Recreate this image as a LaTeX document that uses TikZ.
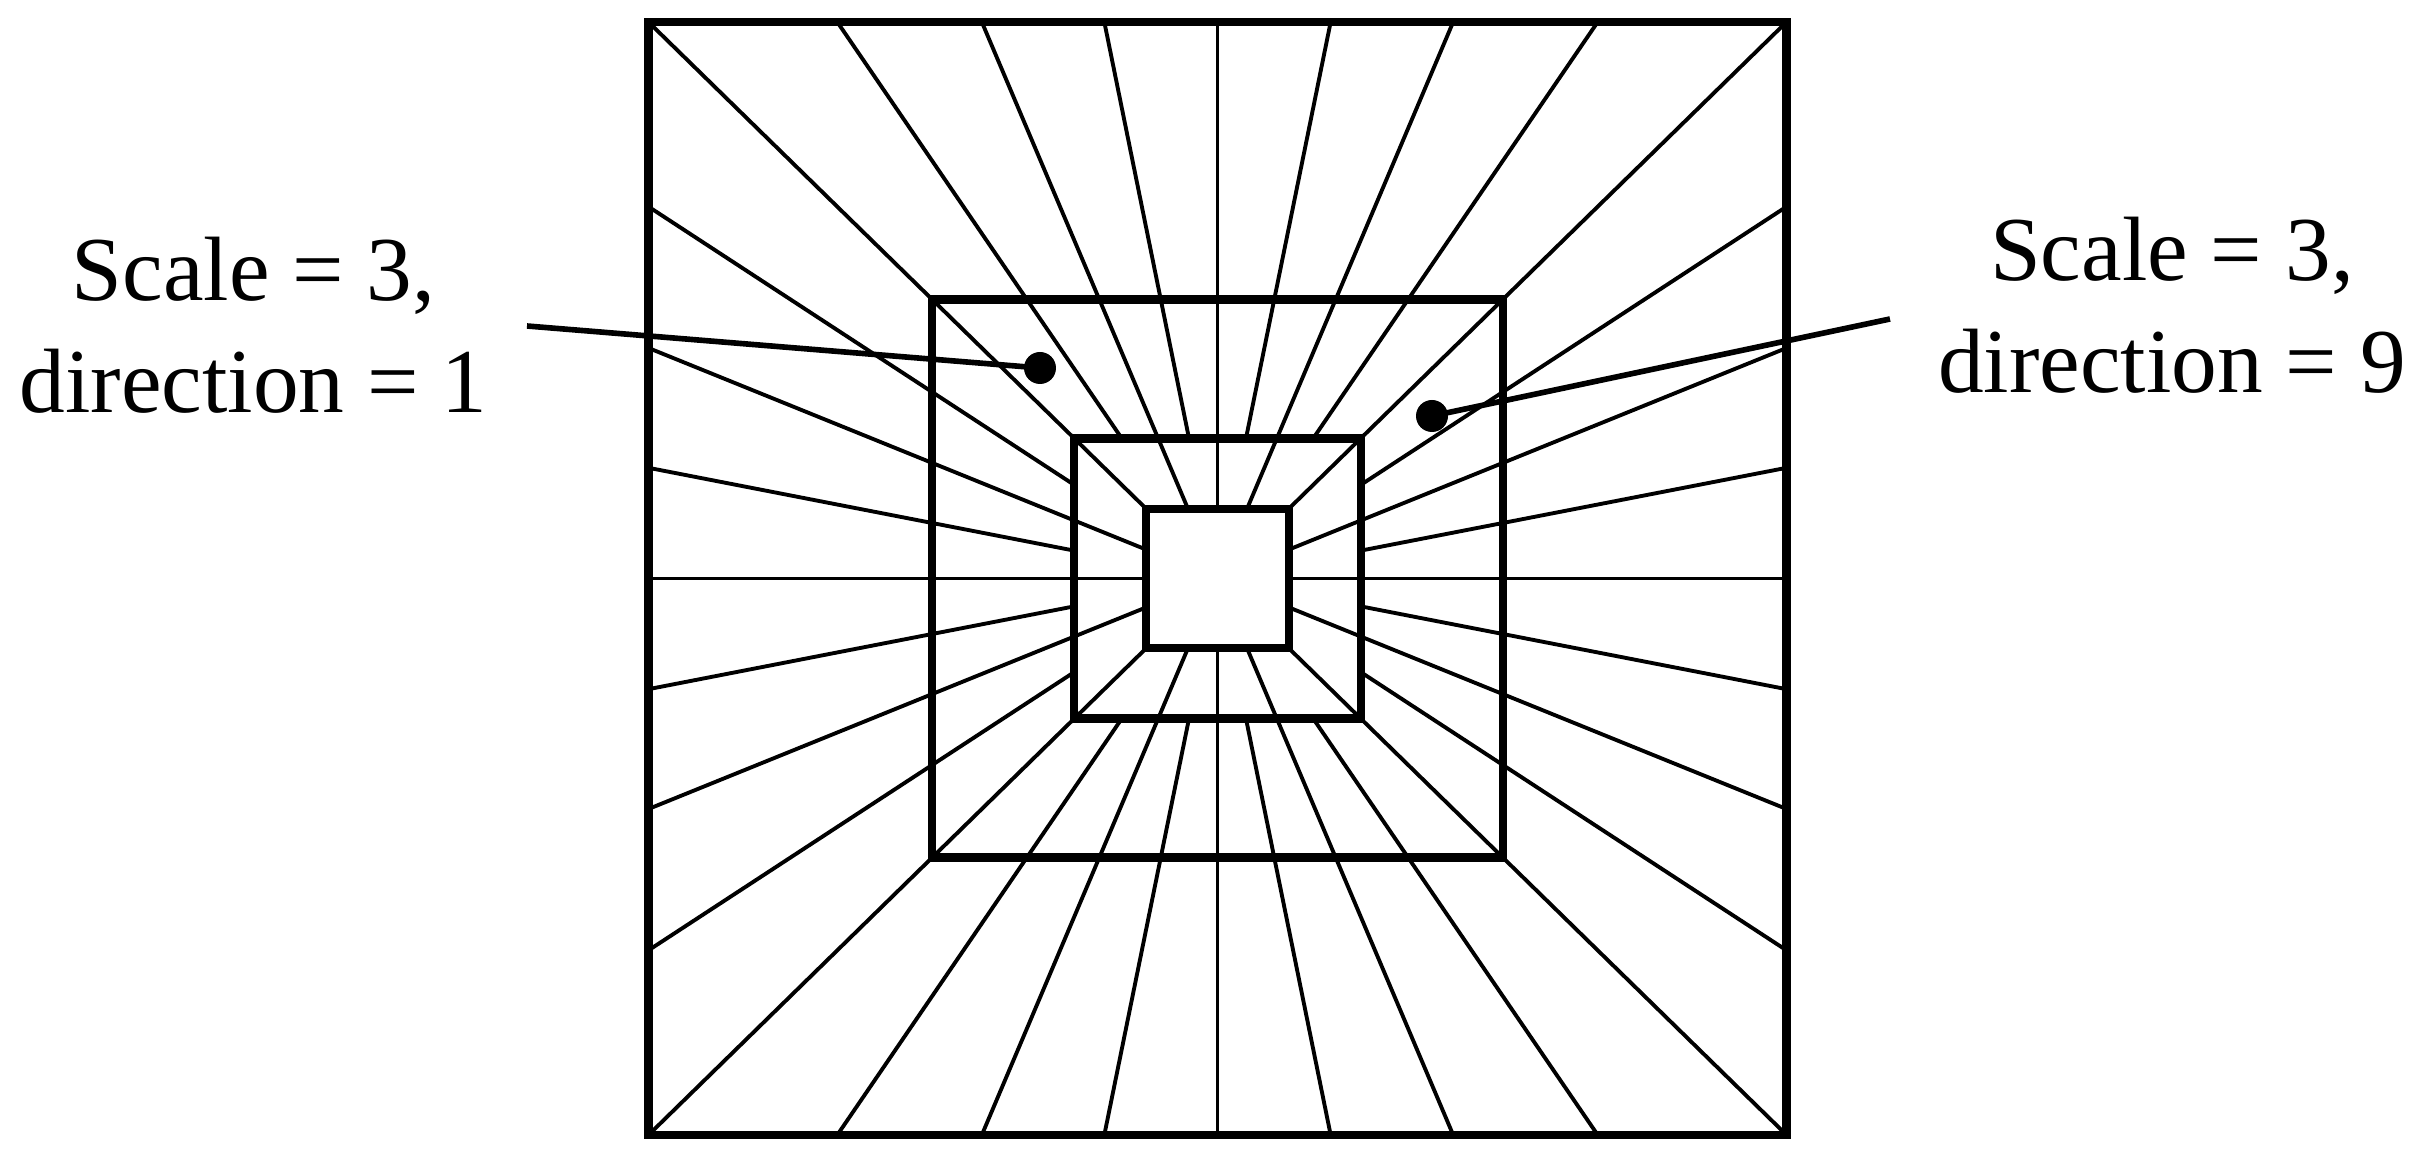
\documentclass[tikz,border=0pt]{standalone}
\usepackage{fontspec}
\setmainfont{Liberation Serif}

\begin{document}
\begin{tikzpicture}[
  every node/.style = {font=\fontsize{26}{32}\selectfont,
    align=center, inner sep=0pt},
  squarebox/.style = {draw, line width=2.3pt},
  dirline/.style = {line width=1.1pt},
  annot/.style = {line width=1.6pt},
  spot/.style = {circle, fill, minimum size=3.2mm}]
\useasboundingbox (-12.175,-5.825) rectangle (12.015,5.785);
%% directional lines, then the scale squares on top
\begin{scope}[xscale=1.0225]
  \foreach \s in {0,90,180,270} {
    \foreach \a in {-45,-22.5,0,22.5}
      \draw[dirline, rotate=\s] ({0.695*tan(\a)},0.695) -- ({5.565*tan(\a)},5.565);
    \foreach \a in {-33.75,-11.25,11.25,33.75}
      \draw[dirline, rotate=\s] ({1.4*tan(\a)},1.4) -- ({5.565*tan(\a)},5.565);
  }
  \foreach \r in {5.565,2.79,1.4,0.695}
    \draw[squarebox] (-\r,-\r) rectangle (\r,\r);
\end{scope}
%% labels
\node[spot] (leftdot) at (-1.775,2.105) {};
\node[spot] (rightdot) at (2.145,1.625) {};
\node (lefttxt) at (-9.64,2.53) {Scale = 3,\\direction = 1};
\node (righttxt) at (9.545,2.735) {Scale = 3,\\direction = 9};
\coordinate (lefttip) at (-6.905,2.525);
\coordinate (righttip) at (6.725,2.595);
\draw[annot] (lefttip) -- (leftdot.center);
\draw[annot] (righttip) -- (rightdot.center);
\end{tikzpicture}
\end{document}
